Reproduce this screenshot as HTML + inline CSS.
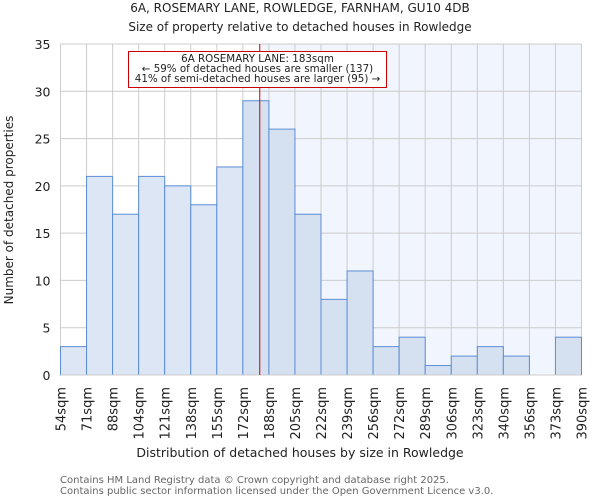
<!DOCTYPE html>
<html><head><meta charset="utf-8"><style>
body{margin:0;background:#fff;font-family:"DejaVu Sans","Liberation Sans",sans-serif}
svg text{font-family:"DejaVu Sans","Liberation Sans",sans-serif}
</style></head><body>
<svg id="chart" width="600" height="500" viewBox="0 0 600 500" xmlns="http://www.w3.org/2000/svg">
<text x="300" y="12" text-anchor="middle" font-size="12" fill="#222">6A, ROSEMARY LANE, ROWLEDGE, FARNHAM, GU10 4DB</text>
<text x="300" y="31" text-anchor="middle" font-size="12" fill="#222">Size of property relative to detached houses in Rowledge</text>
<g id="plot"></g>
<text x="300" y="457" text-anchor="middle" font-size="12.5" fill="#222">Distribution of detached houses by size in Rowledge</text>
<text transform="translate(13,210) rotate(-90)" text-anchor="middle" font-size="12" fill="#222">Number of detached properties</text>
<text x="60" y="483" font-size="10" fill="#666">Contains HM Land Registry data © Crown copyright and database right 2025.</text>
<text x="60" y="494" font-size="10" fill="#666">Contains public sector information licensed under the Open Government Licence v3.0.</text>
</svg>
<script>
const categories=["54sqm","71sqm","88sqm","104sqm","121sqm","138sqm","155sqm","172sqm","188sqm","205sqm","222sqm","239sqm","256sqm","272sqm","289sqm","306sqm","323sqm","340sqm","356sqm","373sqm","390sqm"];
const counts=[3,21,17,21,20,18,22,29,26,17,8,11,3,4,1,2,3,2,0,4];
const yTicks=[0,5,10,15,20,25,30,35];
const markerValue=183;
const binEdges=[54,71,88,104,121,138,155,172,188,205,222,239,256,272,289,306,323,340,356,373,390];
const NS="http://www.w3.org/2000/svg";
const g=document.getElementById('plot');
const X0=60.5,X1=581.5,Y0=375,Y1=44,YMAX=35;
const nb=counts.length,bw=(X1-X0)/nb;
const xIdx=i=>X0+i*bw;
const y=v=>Y0-(v/YMAX)*(Y0-Y1);
function xVal(v){for(let i=0;i<binEdges.length-1;i++){if(v<=binEdges[i+1])return xIdx(i)+(v-binEdges[i])/(binEdges[i+1]-binEdges[i])*bw;}return X1;}
function mk(t,a){const e=document.createElementNS(NS,t);for(const k in a)e.setAttribute(k,a[k]);g.appendChild(e);return e;}
const mx=xVal(markerValue)-1;
let e=mk('rect',{x:mx,y:Y1,width:X1-mx,height:Y0-Y1,fill:'#f1f5fd'});


for(let i=0;i<=nb;i++){e=mk('line',{x1:xIdx(i),x2:xIdx(i),y1:Y1,y2:Y0,stroke:'#ccc','stroke-width':1});

}
yTicks.forEach(t=>{e=mk('line',{x1:X0,x2:X1,y1:y(t),y2:y(t),stroke:'#ccc','stroke-width':1});


e=mk('text',{x:X0-10,y:y(t)+5,'text-anchor':'end','font-size':12.5,fill:'#222'});e.textContent=t;

});
counts.forEach((c,i)=>{if(c<=0)return;const left=xIdx(i)+bw<=mx;
e=mk('rect',{x:xIdx(i),y:y(c),width:bw,height:Y0-y(c),fill:left?'#dce6f4':'#d5e0f1',stroke:'#5b8ed6','stroke-width':1});

});
categories.forEach((c,i)=>{const x=xIdx(i);
e=mk('text',{transform:`translate(${x+5},${Y0+12}) rotate(-90)`,'text-anchor':'end','font-size':13,fill:'#222'});e.textContent=c;

});
e=mk('line',{x1:X0,x2:X1,y1:Y0,y2:Y0,stroke:'#ccc'});


e=mk('line',{x1:mx,x2:mx,y1:Y1,y2:Y0,stroke:'#c00','stroke-width':1});


e=mk('rect',{x:128.5,y:51.5,width:258,height:36,fill:'#fff',stroke:'#c00','stroke-width':1});


["6A ROSEMARY LANE: 183sqm","← 59% of detached houses are smaller (137)","41% of semi-detached houses are larger (95) →"].forEach((s,k)=>{
e=mk('text',{x:257.5,y:62+k*10,'text-anchor':'middle','font-size':10.3,fill:'#222'});e.textContent=s;

});
</script>
</body></html>
